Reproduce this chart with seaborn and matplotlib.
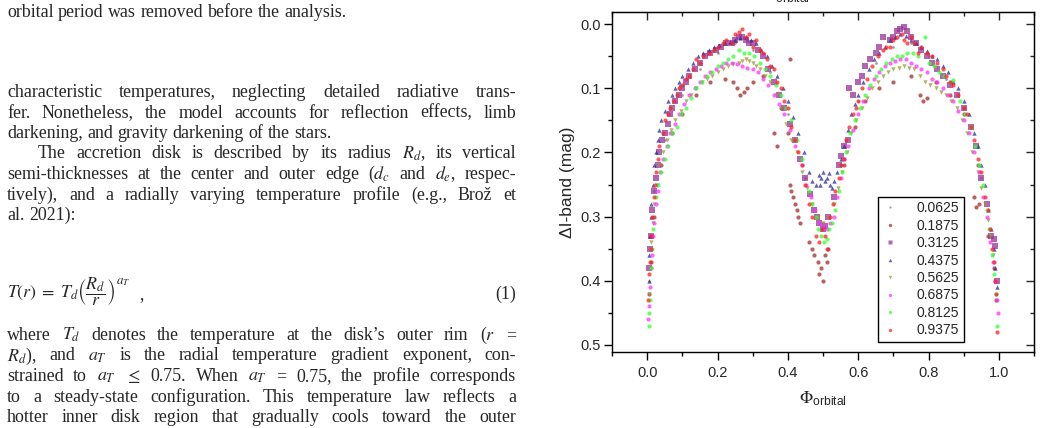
import numpy as np
import pandas as pd
import matplotlib
matplotlib.use("Agg")
import matplotlib.pyplot as plt
import seaborn as sns
from matplotlib.ticker import MultipleLocator
from matplotlib.lines import Line2D
from matplotlib.transforms import IdentityTransform

# ---------------- data ----------------
series_labels = ["0.0625", "0.1875", "0.3125", "0.4375", "0.5625", "0.6875", "0.8125", "0.9375"]

phase_0625 = [0.006, 0.02, 0.05, 0.10, 0.15, 0.20, 0.25, 0.30, 0.35, 0.40, 0.45, 0.50, 0.55, 0.60,
              0.65, 0.70, 0.75, 0.80, 0.85, 0.90, 0.95, 0.99]
mag_0625 = [0.40, 0.26, 0.18, 0.11, 0.07, 0.045, 0.03, 0.04, 0.075, 0.14, 0.24, 0.31, 0.22, 0.12,
            0.06, 0.035, 0.03, 0.05, 0.085, 0.13, 0.24, 0.40]

phase_1875 = [0.005, 0.010, 0.020, 0.040, 0.070, 0.100, 0.140, 0.180, 0.220, 0.255, 0.265, 0.275,
              0.300, 0.330, 0.360, 0.370, 0.380, 0.400, 0.405, 0.405, 0.415, 0.425, 0.435, 0.460,
              0.475, 0.485, 0.495, 0.500, 0.505, 0.515, 0.560, 0.590, 0.620, 0.660, 0.700, 0.750,
              0.785, 0.795, 0.820, 0.860, 0.900, 0.930, 0.935, 0.940, 0.970, 0.985, 0.993,
              0.245, 0.285, 0.410, 0.420, 0.430, 0.470, 0.490, 0.510, 0.775, 0.945]
mag_1875 = [0.42, 0.37, 0.30, 0.22, 0.17, 0.14, 0.11, 0.09, 0.085, 0.10, 0.11, 0.105,
            0.09, 0.08, 0.17, 0.19, 0.13, 0.17, 0.055, 0.25, 0.27, 0.29, 0.31, 0.34,
            0.36, 0.37, 0.38, 0.40, 0.36, 0.35, 0.22, 0.16, 0.12, 0.10, 0.09, 0.08,
            0.12, 0.115, 0.09, 0.11, 0.14, 0.27, 0.285, 0.22, 0.33, 0.38, 0.43,
            0.09, 0.10, 0.26, 0.28, 0.30, 0.35, 0.39, 0.37, 0.11, 0.28]

phase_3125 = [0.005, 0.010, 0.015, 0.025, 0.035, 0.050, 0.065, 0.080, 0.100, 0.120, 0.150, 0.180,
              0.210, 0.240, 0.260, 0.280, 0.300, 0.330, 0.360, 0.390, 0.420, 0.450, 0.475, 0.490,
              0.500, 0.515, 0.545, 0.560, 0.570, 0.575, 0.585, 0.600, 0.620, 0.650, 0.670, 0.690,
              0.710, 0.730, 0.750, 0.780, 0.810, 0.840, 0.880, 0.920, 0.950, 0.978, 0.985, 0.990, 0.995,
              0.008, 0.020, 0.030, 0.043, 0.058, 0.072, 0.090, 0.110, 0.135, 0.165, 0.195, 0.225,
              0.250, 0.270, 0.290, 0.315, 0.345, 0.375, 0.405, 0.435, 0.462, 0.483, 0.507, 0.530,
              0.552, 0.610, 0.635, 0.660, 0.700, 0.720, 0.740, 0.765, 0.795, 0.825, 0.860, 0.900,
              0.935, 0.965]
mag_3125 = [0.38, 0.33, 0.29, 0.24, 0.20, 0.17, 0.14, 0.12, 0.10, 0.08, 0.06, 0.045,
            0.035, 0.03, 0.02, 0.025, 0.03, 0.05, 0.09, 0.13, 0.18, 0.24, 0.29, 0.31,
            0.32, 0.30, 0.22, 0.19, 0.18, 0.10, 0.11, 0.09, 0.065, 0.045, 0.02, 0.025,
            0.01, 0.005, 0.02, 0.04, 0.06, 0.08, 0.11, 0.16, 0.24, 0.33, 0.335, 0.345, 0.40,
            0.35, 0.26, 0.22, 0.18, 0.155, 0.13, 0.11, 0.09, 0.07, 0.05, 0.04, 0.03,
            0.025, 0.02, 0.03, 0.04, 0.07, 0.11, 0.155, 0.21, 0.265, 0.30, 0.315, 0.27,
            0.205, 0.08, 0.055, 0.035, 0.02, 0.008, 0.01, 0.03, 0.05, 0.07, 0.095, 0.13,
            0.19, 0.28]

phase_4375 = [0.004, 0.008, 0.012, 0.020, 0.030, 0.040, 0.060, 0.080, 0.100, 0.130, 0.160, 0.190,
              0.220, 0.250, 0.280, 0.310, 0.340, 0.370, 0.400, 0.430, 0.460, 0.480, 0.488, 0.495,
              0.500, 0.505, 0.512, 0.520, 0.525, 0.540, 0.560, 0.580, 0.600, 0.630, 0.660, 0.690,
              0.720, 0.750, 0.780, 0.810, 0.840, 0.870, 0.900, 0.930, 0.950, 0.970, 0.985, 0.995,
              0.006, 0.010, 0.016, 0.025, 0.035, 0.050, 0.070, 0.090, 0.115, 0.145, 0.175, 0.205,
              0.235, 0.265, 0.295, 0.325, 0.355, 0.385, 0.415, 0.445, 0.470, 0.492, 0.516, 0.532,
              0.550, 0.570, 0.590, 0.615, 0.645, 0.675, 0.705, 0.735, 0.765, 0.795, 0.825, 0.855,
              0.885, 0.915, 0.940, 0.960, 0.978, 0.990]
mag_4375 = [0.40, 0.33, 0.28, 0.22, 0.18, 0.15, 0.12, 0.10, 0.08, 0.06, 0.045, 0.035,
            0.03, 0.025, 0.02, 0.03, 0.05, 0.08, 0.12, 0.17, 0.23, 0.25, 0.235, 0.24,
            0.23, 0.245, 0.24, 0.25, 0.255, 0.23, 0.19, 0.14, 0.11, 0.07, 0.045, 0.025,
            0.015, 0.025, 0.035, 0.05, 0.065, 0.09, 0.12, 0.17, 0.22, 0.29, 0.35, 0.41,
            0.36, 0.30, 0.25, 0.20, 0.165, 0.135, 0.11, 0.09, 0.07, 0.05, 0.04, 0.032,
            0.028, 0.022, 0.025, 0.04, 0.065, 0.10, 0.145, 0.20, 0.245, 0.25, 0.232, 0.245,
            0.21, 0.165, 0.125, 0.09, 0.055, 0.035, 0.02, 0.018, 0.03, 0.042, 0.055, 0.075,
            0.10, 0.14, 0.19, 0.25, 0.32, 0.38]

phase_5625 = [0.005, 0.012, 0.020, 0.035, 0.055, 0.080, 0.110, 0.140, 0.170, 0.200, 0.230, 0.260,
              0.280, 0.300, 0.320, 0.350, 0.380, 0.410, 0.440, 0.470, 0.500, 0.530, 0.555, 0.580,
              0.610, 0.640, 0.670, 0.700, 0.730, 0.760, 0.790, 0.820, 0.850, 0.880, 0.910, 0.940,
              0.960, 0.975, 0.990,
              0.008, 0.016, 0.027, 0.045, 0.067, 0.095, 0.125, 0.155, 0.185, 0.215, 0.245, 0.270,
              0.290, 0.310, 0.335, 0.365, 0.395, 0.425, 0.455, 0.485, 0.515, 0.543, 0.568, 0.595,
              0.625, 0.655, 0.685, 0.715, 0.745, 0.775, 0.805, 0.835, 0.865, 0.895, 0.925, 0.950,
              0.968, 0.983]
mag_5625 = [0.42, 0.34, 0.28, 0.22, 0.18, 0.15, 0.12, 0.10, 0.085, 0.075, 0.065, 0.06,
            0.055, 0.06, 0.07, 0.09, 0.13, 0.18, 0.23, 0.28, 0.31, 0.28, 0.23, 0.17,
            0.13, 0.10, 0.08, 0.07, 0.065, 0.07, 0.09, 0.10, 0.11, 0.13, 0.17, 0.23,
            0.28, 0.33, 0.40,
            0.38, 0.31, 0.25, 0.20, 0.165, 0.135, 0.11, 0.09, 0.08, 0.07, 0.062, 0.058,
            0.058, 0.065, 0.08, 0.11, 0.155, 0.20, 0.255, 0.30, 0.30, 0.255, 0.20, 0.15,
            0.115, 0.09, 0.075, 0.068, 0.068, 0.08, 0.095, 0.105, 0.12, 0.15, 0.20, 0.255,
            0.305, 0.36]

phase_6875 = [0.003, 0.006, 0.009, 0.014, 0.020, 0.030, 0.045, 0.065, 0.090, 0.120, 0.150, 0.180,
              0.210, 0.240, 0.270, 0.300, 0.330, 0.360, 0.390, 0.420, 0.440, 0.465, 0.490, 0.510,
              0.530, 0.550, 0.570, 0.600, 0.630, 0.660, 0.690, 0.720, 0.750, 0.780, 0.810, 0.840,
              0.870, 0.900, 0.930, 0.955, 0.975, 0.988, 0.994, 0.997,
              0.012, 0.017, 0.025, 0.037, 0.055, 0.078, 0.105, 0.135, 0.165, 0.195, 0.225, 0.255,
              0.285, 0.315, 0.345, 0.375, 0.405, 0.452, 0.478, 0.500, 0.520, 0.540, 0.560, 0.585,
              0.615, 0.645, 0.675, 0.705, 0.735, 0.765, 0.795, 0.825, 0.855, 0.885, 0.915, 0.943,
              0.965, 0.982]
mag_6875 = [0.46, 0.44, 0.41, 0.36, 0.31, 0.26, 0.21, 0.17, 0.14, 0.11, 0.09, 0.075,
            0.065, 0.06, 0.065, 0.07, 0.085, 0.11, 0.14, 0.19, 0.22, 0.27, 0.31, 0.32,
            0.30, 0.24, 0.19, 0.14, 0.10, 0.075, 0.06, 0.055, 0.06, 0.07, 0.085, 0.10,
            0.12, 0.15, 0.20, 0.27, 0.34, 0.40, 0.43, 0.45,
            0.38, 0.33, 0.28, 0.23, 0.19, 0.155, 0.125, 0.10, 0.08, 0.07, 0.06, 0.062,
            0.068, 0.075, 0.095, 0.125, 0.165, 0.25, 0.29, 0.315, 0.31, 0.27, 0.21, 0.165,
            0.12, 0.085, 0.065, 0.058, 0.055, 0.065, 0.075, 0.09, 0.11, 0.135, 0.17, 0.23,
            0.30, 0.37]

phase_8125 = [0.004, 0.008, 0.012, 0.018, 0.025, 0.040, 0.060, 0.085, 0.110, 0.140, 0.170, 0.200,
              0.230, 0.260, 0.290, 0.320, 0.350, 0.380, 0.410, 0.440, 0.460, 0.480, 0.495, 0.510,
              0.525, 0.545, 0.565, 0.590, 0.620, 0.650, 0.680, 0.710, 0.740, 0.770, 0.790, 0.800,
              0.830, 0.860, 0.870, 0.890, 0.920, 0.945, 0.965, 0.980, 0.992, 0.995,
              0.006, 0.015, 0.030, 0.050, 0.070, 0.095, 0.125, 0.155, 0.185, 0.215, 0.245, 0.275,
              0.305, 0.335, 0.365, 0.395, 0.425, 0.470, 0.487, 0.503, 0.518, 0.535, 0.555, 0.578,
              0.605, 0.635, 0.665, 0.695, 0.725, 0.755, 0.815, 0.845, 0.905, 0.933, 0.955, 0.972,
              0.986]
mag_8125 = [0.47, 0.43, 0.38, 0.32, 0.27, 0.23, 0.19, 0.16, 0.13, 0.10, 0.08, 0.065,
            0.055, 0.04, 0.045, 0.06, 0.08, 0.11, 0.15, 0.21, 0.26, 0.30, 0.33, 0.335,
            0.31, 0.26, 0.20, 0.15, 0.11, 0.08, 0.06, 0.05, 0.045, 0.05, 0.02, 0.06,
            0.075, 0.09, 0.087, 0.12, 0.16, 0.22, 0.29, 0.36, 0.42, 0.47,
            0.45, 0.35, 0.25, 0.21, 0.17, 0.14, 0.115, 0.09, 0.075, 0.06, 0.05, 0.045,
            0.05, 0.07, 0.095, 0.13, 0.18, 0.28, 0.32, 0.34, 0.32, 0.29, 0.23, 0.17,
            0.13, 0.095, 0.07, 0.055, 0.05, 0.045, 0.065, 0.08, 0.14, 0.19, 0.25, 0.32,
            0.39]

phase_9375 = [0.003, 0.006, 0.010, 0.015, 0.020, 0.022, 0.030, 0.045, 0.050, 0.060, 0.075, 0.090,
              0.110, 0.130, 0.140, 0.150, 0.175, 0.200, 0.225, 0.240, 0.250, 0.270, 0.280, 0.290,
              0.300, 0.310, 0.330, 0.350, 0.360, 0.370, 0.390, 0.400, 0.410, 0.430, 0.450, 0.470,
              0.480, 0.490, 0.505, 0.510, 0.520, 0.535, 0.550, 0.560, 0.565, 0.585, 0.600, 0.610,
              0.640, 0.670, 0.690, 0.700, 0.725, 0.740, 0.750, 0.770, 0.780, 0.810, 0.840, 0.860,
              0.870, 0.900, 0.920, 0.940, 0.950, 0.960, 0.975, 0.985, 0.990, 0.993, 0.996,
              0.008, 0.012, 0.026, 0.035, 0.065, 0.085, 0.100, 0.120, 0.160, 0.190, 0.215, 0.260,
              0.320, 0.340, 0.380, 0.420, 0.440, 0.460, 0.497, 0.528, 0.545, 0.575, 0.595, 0.625,
              0.655, 0.680, 0.710, 0.730, 0.760, 0.795, 0.825, 0.850, 0.885, 0.910, 0.930, 0.968,
              0.980]
mag_9375 = [0.43, 0.39, 0.35, 0.30, 0.27, 0.25, 0.21, 0.17, 0.15, 0.14, 0.12, 0.10,
            0.085, 0.07, 0.055, 0.06, 0.045, 0.035, 0.025, 0.03, 0.015, 0.008, 0.02, 0.015,
            0.035, 0.025, 0.045, 0.065, 0.07, 0.09, 0.12, 0.13, 0.16, 0.20, 0.25, 0.30,
            0.33, 0.34, 0.33, 0.35, 0.30, 0.26, 0.22, 0.21, 0.18, 0.14, 0.12, 0.10,
            0.065, 0.04, 0.035, 0.025, 0.015, 0.03, 0.02, 0.045, 0.035, 0.05, 0.07, 0.09,
            0.095, 0.13, 0.16, 0.21, 0.23, 0.27, 0.32, 0.37, 0.40, 0.42, 0.48,
            0.37, 0.33, 0.23, 0.19, 0.13, 0.11, 0.095, 0.08, 0.05, 0.04, 0.03, 0.012,
            0.04, 0.055, 0.10, 0.18, 0.22, 0.28, 0.32, 0.28, 0.24, 0.16, 0.13, 0.085,
            0.05, 0.035, 0.02, 0.025, 0.03, 0.045, 0.06, 0.08, 0.11, 0.14, 0.18, 0.29,
            0.35]

phases = [phase_0625, phase_1875, phase_3125, phase_4375, phase_5625, phase_6875, phase_8125, phase_9375]
mags = [mag_0625, mag_1875, mag_3125, mag_4375, mag_5625, mag_6875, mag_8125, mag_9375]

df = pd.concat([pd.DataFrame({"phase": p, "mag": m, "series": lab})
                for p, m, lab in zip(phases, mags, series_labels)], ignore_index=True)

# ---------------- styles ----------------
colors = {"0.0625": "#808080", "0.1875": "#A52A2A", "0.3125": "#993399", "0.4375": "#2B2B9A",
          "0.5625": "#999933", "0.6875": "#FF33FF", "0.8125": "#33FF33", "0.9375": "#FF2020"}
markers = {"0.0625": "o", "0.1875": "o", "0.3125": "s", "0.4375": "^",
           "0.5625": "v", "0.6875": "o", "0.8125": "o", "0.9375": "o"}
sizes = {"0.0625": 4, "0.1875": 9, "0.3125": 16, "0.4375": 10,
         "0.5625": 10, "0.6875": 9, "0.8125": 9, "0.9375": 9}

sns.set_style("white")
plt.rcParams["font.family"] = ["Liberation Sans", "DejaVu Sans"]
plt.rcParams["mathtext.fontset"] = "stix"

W, H = 1042, 428
fig = plt.figure(figsize=(W / 100, H / 100), dpi=100)
ax = fig.add_axes([612 / W, 1 - 352 / H, 422 / W, 340 / H])

for lab in series_labels:
    sub = df[df["series"] == lab]
    sns.scatterplot(data=sub, x="phase", y="mag", ax=ax, color=colors[lab], marker=markers[lab],
                    s=sizes[lab], alpha=0.75, linewidth=0, legend=False)

ax.set_xlim(-0.1, 1.1)
ax.set_ylim(0.511, -0.019)
for sp in ax.spines.values():
    sp.set_color("black")
    sp.set_linewidth(1.0)

ax.xaxis.set_major_locator(MultipleLocator(0.2))
ax.xaxis.set_minor_locator(MultipleLocator(0.1))
ax.yaxis.set_major_locator(MultipleLocator(0.1))
ax.yaxis.set_minor_locator(MultipleLocator(0.05))
ax.tick_params(axis="x", which="major", direction="out", length=6, width=1, bottom=True, top=False,
               labelsize=10.5, pad=4, color="black")
ax.tick_params(axis="x", which="minor", direction="out", length=3, width=1, bottom=True, top=False,
               color="black")
ax.tick_params(axis="y", which="major", direction="out", length=6, width=1, left=True, right=False,
               labelsize=10.5, pad=2, color="black")
ax.tick_params(axis="y", which="minor", direction="out", length=3, width=1, left=True, right=False,
               color="black")

secx = ax.secondary_xaxis("top")
secx.xaxis.set_major_locator(MultipleLocator(0.2))
secx.xaxis.set_minor_locator(MultipleLocator(0.1))
secx.tick_params(axis="x", which="major", direction="in", length=6, width=1, labeltop=False)
secx.tick_params(axis="x", which="minor", direction="in", length=3, width=1)
secy = ax.secondary_yaxis("right")
secy.yaxis.set_major_locator(MultipleLocator(0.1))
secy.yaxis.set_minor_locator(MultipleLocator(0.05))
secy.tick_params(axis="y", which="major", direction="in", length=6, width=1, labelright=False)
secy.tick_params(axis="y", which="minor", direction="in", length=3, width=1)

phi_label = r"$\Phi_{\mathregular{orbital}}$"
ax.set_xlabel(phi_label, fontsize=12.5)
ax.xaxis.set_label_coords(0.5, -0.11)
ax.set_ylabel("ΔI-band (mag)", fontsize=12.5)
ax.yaxis.set_label_coords(-0.088, 0.5)

# partially visible top label
fig.text(762 / W, 1 - 1 / H, phi_label, fontsize=12.5, ha="left", va="baseline")

handles = [Line2D([], [], ls="none", marker=markers[l], color=colors[l], mec="none",
                  markersize=np.sqrt(sizes[l]) * 0.8, alpha=0.75) for l in series_labels]
leg = ax.legend(handles, series_labels, loc="upper left", bbox_to_anchor=(0.630, 0.456),
                frameon=True, fancybox=False, edgecolor="black", fontsize=10,
                labelspacing=0.25, handlelength=1.2, handletextpad=1.3, borderpad=0.3,
                borderaxespad=0, framealpha=1)
leg.get_frame().set_linewidth(1.0)

# ---------------- page text on the left ----------------
serif = ["Liberation Serif", "DejaVu Serif"]
renderer = fig.canvas.get_renderer()
ref = fig.text(0, 0, "orbital period was removed before the analysis.", family=serif, fontsize=10)
w10 = ref.get_window_extent(renderer=renderer).width
ref.remove()
FS = 10 * 340.0 / w10
space = FS * 100 / 72 * 0.25

X0, X1 = 7, 516
lines = [
    (17, X0, "orbital period was removed before the analysis.", False),
    (97, X0, "characteristic temperatures, neglecting detailed radiative trans-", True),
    (117.5, X0, "fer. Nonetheless, the model accounts for reflection effects, limb", True),
    (138, X0, "darkening, and gravity darkening of the stars.", False),
    (158.5, 38, r"The accretion disk is described by its radius $R_d$, its vertical", True),
    (179, X0, r"semi-thicknesses at the center and outer edge ($d_c$ and $d_e$, respec-", True),
    (199.5, X0, "tively), and a radially varying temperature profile (e.g., Brož et", True),
    (220, X0, "al. 2021):", False),
    (340, X0, r"where $T_d$ denotes the temperature at the disk’s outer rim ($r$ =", True),
    (360.5, X0, r"$R_d$), and $a_T$ is the radial temperature gradient exponent, con-", True),
    (381, X0, r"strained to $a_T$ $\leq$ 0.75. When $a_T$ = 0.75, the profile corresponds", True),
    (401.5, X0, "to a steady-state configuration. This temperature law reflects a", True),
    (422, X0, "hotter inner disk region that gradually cools toward the outer", True),
]
tr = IdentityTransform()
for yb, xs, content, just in lines:
    words = content.split(" ")
    objs = [fig.text(0, H - yb, w, family=serif, fontsize=FS, transform=tr, va="baseline", ha="left")
            for w in words]
    widths = [o.get_window_extent(renderer=renderer).width for o in objs]
    if just and len(words) > 1:
        gap = (X1 - xs - sum(widths)) / (len(words) - 1)
    else:
        gap = space
    x = xs
    for o, wd in zip(objs, widths):
        o.set_x(x)
        x += wd + gap

# equation (1)
EQ_Y = H - 299
eq = fig.text(X0, EQ_Y, r"$T(r)\;=\;T_d\left(\dfrac{R_d}{r}\right)$", family=serif, fontsize=FS,
              transform=tr, va="baseline", ha="left")
bb = eq.get_window_extent(renderer=renderer)
ex = fig.text(bb.x1 + 1, bb.y1 - 8, r"$a_T$", family=serif, fontsize=FS * 0.72,
              transform=tr, va="baseline", ha="left")
bx = ex.get_window_extent(renderer=renderer)
fig.text(bx.x1 + 9, EQ_Y, ",", family=serif, fontsize=FS, transform=tr, va="baseline", ha="left")
fig.text(X1, EQ_Y, "(1)", family=serif, fontsize=FS, transform=tr, va="baseline", ha="right")

fig.savefig("out.png", dpi=100)
